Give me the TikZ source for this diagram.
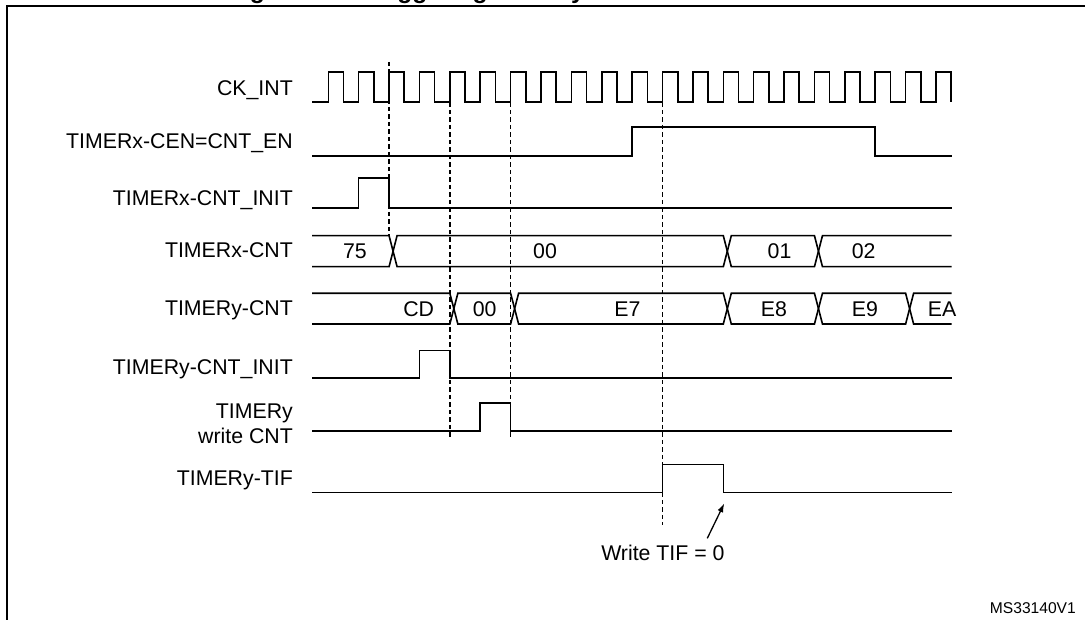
\documentclass[tikz,border=0pt]{standalone}
\usepackage{fontspec}
\setmainfont{Liberation Sans}
\usetikzlibrary{arrows.meta}
\begin{document}
\begin{tikzpicture}[x=1pt,y=-1pt,
  sig/.style={line width=1.6pt, line join=miter},
  guide/.style={line width=1.4pt, dash pattern=on 4.5pt off 3pt},
  lbl/.style={anchor=base east, inner sep=0pt, font=\fontsize{21.3}{25.5}\selectfont},
  val/.style={anchor=base, inner sep=0pt, font=\fontsize{21.3}{25.5}\selectfont},
  framestyle/.style={line width=1.8pt}]
\useasboundingbox (0,0) rectangle (1085,620);
\def\E#1{(328.3+30.385*(#1))}
% frame and clipped title
\node[anchor=base west, inner sep=0pt, font=\fontsize{24.65}{30}\selectfont\bfseries] (title) at (227.7,-1.5) {Figure 280. Triggering TIMERy with Enable of TIMERx};
\draw[framestyle] (7,630) -- (7,6) -- (1095,6);
% labels
\node[lbl] (ckint) at (293,95.5) {CK\_INT};
\node[lbl] (cen) at (293,148.5) {TIMERx-CEN=CNT\_EN};
\node[lbl] (xinit) at (293,206) {TIMERx-CNT\_INIT};
\node[lbl] (xcnt) at (293,258) {TIMERx-CNT};
\node[lbl] (ycnt) at (293,316) {TIMERy-CNT};
\node[lbl] (yinit) at (293,375) {TIMERy-CNT\_INIT};
\node[anchor=east, inner sep=0pt, align=right, font=\fontsize{21.3}{25.5}\selectfont] (ywr) at (293,424) {TIMERy\\write CNT};
\node[lbl] (tif) at (293,485.5) {TIMERy-TIF};
% clock
\draw[sig] (312,102.3) \foreach \k in {0,...,20} { -- ({\E{\k}},102.3) -- ({\E{\k}},72.3) -- ({\E{\k}+15.2},72.3) -- ({\E{\k}+15.2},102.3)};
% single-bit signals
\draw[sig] (312,156) -- ({\E{10}},156) -- ({\E{10}},127) -- ({\E{18}},127) -- ({\E{18}},156) -- (951.7,156);
\draw[sig] (312,208.3) -- ({\E{1}},208.3) -- ({\E{1}},178.3) -- ({\E{2}},178.3) -- ({\E{2}},208.3) -- (951.7,208.3);
\draw[sig] (312,378.3) -- ({\E{3}},378.3) -- ({\E{3}},350.7) -- ({\E{4}},350.7) -- ({\E{4}},378.3) -- (951.7,378.3);
\draw[sig] (312,431) -- ({\E{5}},431) -- ({\E{5}},403.3) -- ({\E{6}},403.3) -- ({\E{6}},431) -- (951.7,431);
\draw[sig] (312,492.3) -- ({\E{11}},492.3) -- ({\E{11}},464.3) -- ({\E{13}},464.3) -- ({\E{13}},492.3) -- (951.7,492.3);
% TIMERx-CNT bus
\draw[sig] (312,235.7) -- ({\E{2}},235.7) -- ({\E{2}+8},266.7) -- ({\E{13}},266.7) -- ({\E{13}+8},235.7) -- ({\E{16}},235.7) -- ({\E{16}+8},266.7) -- (951.7,266.7);
\draw[sig] (312,266.7) -- ({\E{2}},266.7) -- ({\E{2}+8},235.7) -- ({\E{13}},235.7) -- ({\E{13}+8},266.7) -- ({\E{16}},266.7) -- ({\E{16}+8},235.7) -- (951.7,235.7);
% TIMERy-CNT bus
\draw[sig] (312,293.3) -- ({\E{4}},293.3) -- ({\E{4}+8},324) -- ({\E{6}},324) -- ({\E{6}+8},293.3) -- ({\E{13}},293.3) -- ({\E{13}+8},324) -- ({\E{16}},324) -- ({\E{16}+8},293.3) -- ({\E{19}},293.3) -- ({\E{19}+8},324) -- (951.7,324);
\draw[sig] (312,324) -- ({\E{4}},324) -- ({\E{4}+8},293.3) -- ({\E{6}},293.3) -- ({\E{6}+8},324) -- ({\E{13}},324) -- ({\E{13}+8},293.3) -- ({\E{16}},293.3) -- ({\E{16}+8},324) -- ({\E{19}},324) -- ({\E{19}+8},293.3) -- (951.7,293.3);
% bus values
\node[val] (x75) at (355,258.7) {75};
\node[val] (x00) at (545,258.7) {00};
\node[val] (x01) at (779.5,258.7) {01};
\node[val] (x02) at (863.7,258.7) {02};
\node[val] (yCD) at (418.7,316.2) {CD};
\node[val] (y00) at (484.7,316.2) {00};
\node[val] (yE7) at (627.5,316.2) {E7};
\node[val] (yE8) at (774,316.2) {E8};
\node[val] (yE9) at (865,316.2) {E9};
\node[val] (yEA) at (942,316.2) {EA};
% dashed guides
\draw[guide] ({\E{2}},62) -- ({\E{2}},235.7);
\draw[guide] ({\E{4}},102.3) -- ({\E{4}},437);
\draw[guide] ({\E{6}},102.3) -- ({\E{6}},437);
\draw[guide] ({\E{11}},102.3) -- ({\E{11}},525);
% annotation
\node[val] (wtif) at (662.9,560) {Write TIF = 0};
\coordinate (arrtail) at (707.3,538.3);
\coordinate (arrtip) at (724.3,503.3);
\draw[line width=1.3pt, -{Latex[length=9pt,width=6pt]}] (arrtail) -- (arrtip);
\node[anchor=base east, inner sep=0pt, font=\fontsize{15.6}{18}\selectfont] (ref) at (1076,613) {MS33140V1};
\end{tikzpicture}
\end{document}
